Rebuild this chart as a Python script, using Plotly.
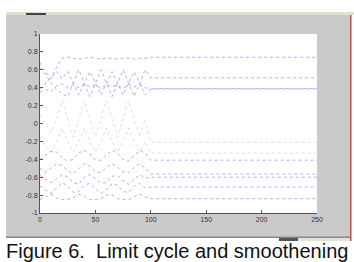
import plotly.graph_objects as go

# x positions of the read samples (oscillation part 0..100, then flat to 250)
x_vals = [0, 5, 10, 15, 20, 25, 30, 35, 40, 45, 50, 55, 60, 65, 70, 75, 80, 85, 90, 95, 100, 250]

s1 = [0.68, 0.58, 0.50, 0.63, 0.73, 0.74, 0.73, 0.72, 0.73, 0.74, 0.73, 0.72, 0.73, 0.73, 0.72, 0.73, 0.73, 0.72, 0.73, 0.73, 0.74, 0.74]
s2 = [0.62, 0.55, 0.45, 0.38, 0.33, 0.30, 0.45, 0.60, 0.45, 0.30, 0.45, 0.60, 0.45, 0.30, 0.45, 0.60, 0.45, 0.30, 0.45, 0.60, 0.51, 0.51]
s3 = [0.38, 0.45, 0.52, 0.58, 0.50, 0.58, 0.45, 0.32, 0.45, 0.58, 0.45, 0.32, 0.45, 0.58, 0.45, 0.32, 0.45, 0.58, 0.45, 0.32, 0.39, 0.39]
s4 = [0.35, 0.38, 0.36, 0.42, 0.44, 0.40, 0.43, 0.40, 0.44, 0.41, 0.43, 0.39, 0.44, 0.41, 0.43, 0.39, 0.44, 0.41, 0.43, 0.40, 0.385, 0.385]
s5 = [0.10, 0.00, -0.10, 0.05, 0.25, 0.05, -0.15, 0.05, 0.25, 0.05, -0.15, 0.05, 0.25, 0.05, -0.15, 0.05, 0.25, 0.05, -0.15, 0.05, -0.21, -0.21]
s6 = [-0.15, -0.25, -0.32, -0.20, -0.05, -0.20, -0.32, -0.20, -0.05, -0.20, -0.32, -0.20, -0.05, -0.20, -0.32, -0.20, -0.05, -0.20, -0.32, -0.20, -0.33, -0.33]
s7 = [-0.40, -0.36, -0.31, -0.32, -0.38, -0.42, -0.40, -0.33, -0.30, -0.34, -0.41, -0.41, -0.35, -0.30, -0.33, -0.40, -0.42, -0.36, -0.30, -0.33, -0.41, -0.41]
s8 = [-0.50, -0.55, -0.50, -0.45, -0.47, -0.53, -0.56, -0.50, -0.45, -0.48, -0.54, -0.55, -0.49, -0.45, -0.49, -0.54, -0.55, -0.49, -0.45, -0.50, -0.565, -0.565]
s9 = [-0.58, -0.62, -0.66, -0.62, -0.57, -0.60, -0.66, -0.68, -0.60, -0.57, -0.62, -0.67, -0.66, -0.59, -0.58, -0.64, -0.68, -0.63, -0.57, -0.61, -0.60, -0.60]
s10 = [-0.70, -0.74, -0.78, -0.72, -0.66, -0.70, -0.77, -0.76, -0.69, -0.67, -0.73, -0.78, -0.74, -0.67, -0.69, -0.76, -0.77, -0.70, -0.67, -0.72, -0.71, -0.71]
s11 = [-0.85, -0.82, -0.79, -0.83, -0.85, -0.85, -0.83, -0.79, -0.81, -0.85, -0.85, -0.84, -0.80, -0.80, -0.84, -0.85, -0.85, -0.82, -0.79, -0.82, -0.84, -0.84]

series = [s1, s2, s3, s4, s5, s6, s7, s8, s9, s10, s11]
faint = [False, False, False, False, True, True, False, False, False, False, False]

x_ticks = [0, 50, 100, 150, 200, 250]
y_ticks = [1, 0.8, 0.6, 0.4, 0.2, 0, -0.2, -0.4, -0.6, -0.8, -1]
y_tick_labels = ["1", "0.8", "0.6", "0.4", "0.2", "0", "-0.2", "-0.4", "-0.6", "-0.8", "-1"]
caption = "Figure 6.\u00a0 Limit cycle and smoothening"

fig = go.Figure()
for s, f in zip(series, faint):
    fig.add_trace(go.Scatter(
        x=x_vals, y=s, mode="lines",
        line=dict(color="rgba(150,150,240,0.35)" if f else "rgba(120,120,240,0.6)",
                  width=1, dash="dot", shape="linear"),
        showlegend=False, hoverinfo="skip"))

W, H = 354, 262
L, R, T, B = 40, 37, 34, 49
pw, ph = W - L - R, H - T - B

def px(xp):
    return (xp - L) / pw

def py(yp):
    return (H - B - yp) / ph

shapes = [
    dict(type="rect", xref="paper", yref="paper", x0=px(6), x1=px(350), y0=py(237), y1=py(15),
         fillcolor="#cacaca", line=dict(width=0), layer="below"),
    dict(type="rect", xref="paper", yref="paper", x0=px(6), x1=px(354), y0=py(15), y1=py(12),
         fillcolor="#e2dfd0", line=dict(width=0), layer="below"),
    dict(type="rect", xref="paper", yref="paper", x0=px(26), x1=px(46), y0=py(15), y1=py(13),
         fillcolor="#444444", line=dict(width=0), layer="below"),
    dict(type="rect", xref="paper", yref="paper", x0=px(6), x1=px(350), y0=py(238), y1=py(236.5),
         fillcolor="#8a8a8a", line=dict(width=0), layer="below"),
    dict(type="rect", xref="paper", yref="paper", x0=px(279), x1=px(298), y0=py(241), y1=py(238),
         fillcolor="#555555", line=dict(width=0), layer="below"),
    dict(type="rect", xref="paper", yref="paper", x0=px(298), x1=px(350), y0=py(241), y1=py(238),
         fillcolor="#e6e4d6", line=dict(width=0), layer="below"),
    dict(type="rect", xref="paper", yref="paper", x0=px(350), x1=px(351.5), y0=py(241), y1=py(15),
         fillcolor="#c05050", line=dict(width=0), layer="below"),
    dict(type="rect", xref="paper", yref="paper", x0=0, x1=1, y0=0, y1=1,
         fillcolor="white", line=dict(width=0), layer="below"),
]

fig.update_layout(
    width=W, height=H,
    margin=dict(l=L, r=R, t=T, b=B, pad=0),
    paper_bgcolor="white", plot_bgcolor="white",
    shapes=shapes,
    xaxis=dict(range=[0, 250], tickvals=x_ticks, showgrid=False, zeroline=False,
               showline=True, linecolor="#555555", linewidth=1,
               ticks="inside", ticklen=3, tickcolor="#555555",
               tickfont=dict(family="Arial, Liberation Sans", size=7, color="#333333")),
    yaxis=dict(range=[-1, 1], tickvals=y_ticks, ticktext=y_tick_labels, showgrid=False,
               zeroline=False, showline=True, linecolor="#555555", linewidth=1,
               ticks="inside", ticklen=3, tickcolor="#555555",
               tickfont=dict(family="Arial, Liberation Sans", size=7, color="#333333")),
    annotations=[dict(text=caption, xref="paper", yref="paper", x=px(177), y=py(251),
                      xanchor="center", yanchor="middle", showarrow=False,
                      font=dict(family="Liberation Sans, Arial", size=20, color="#111111"))],
)

fig.write_html("out.html")
